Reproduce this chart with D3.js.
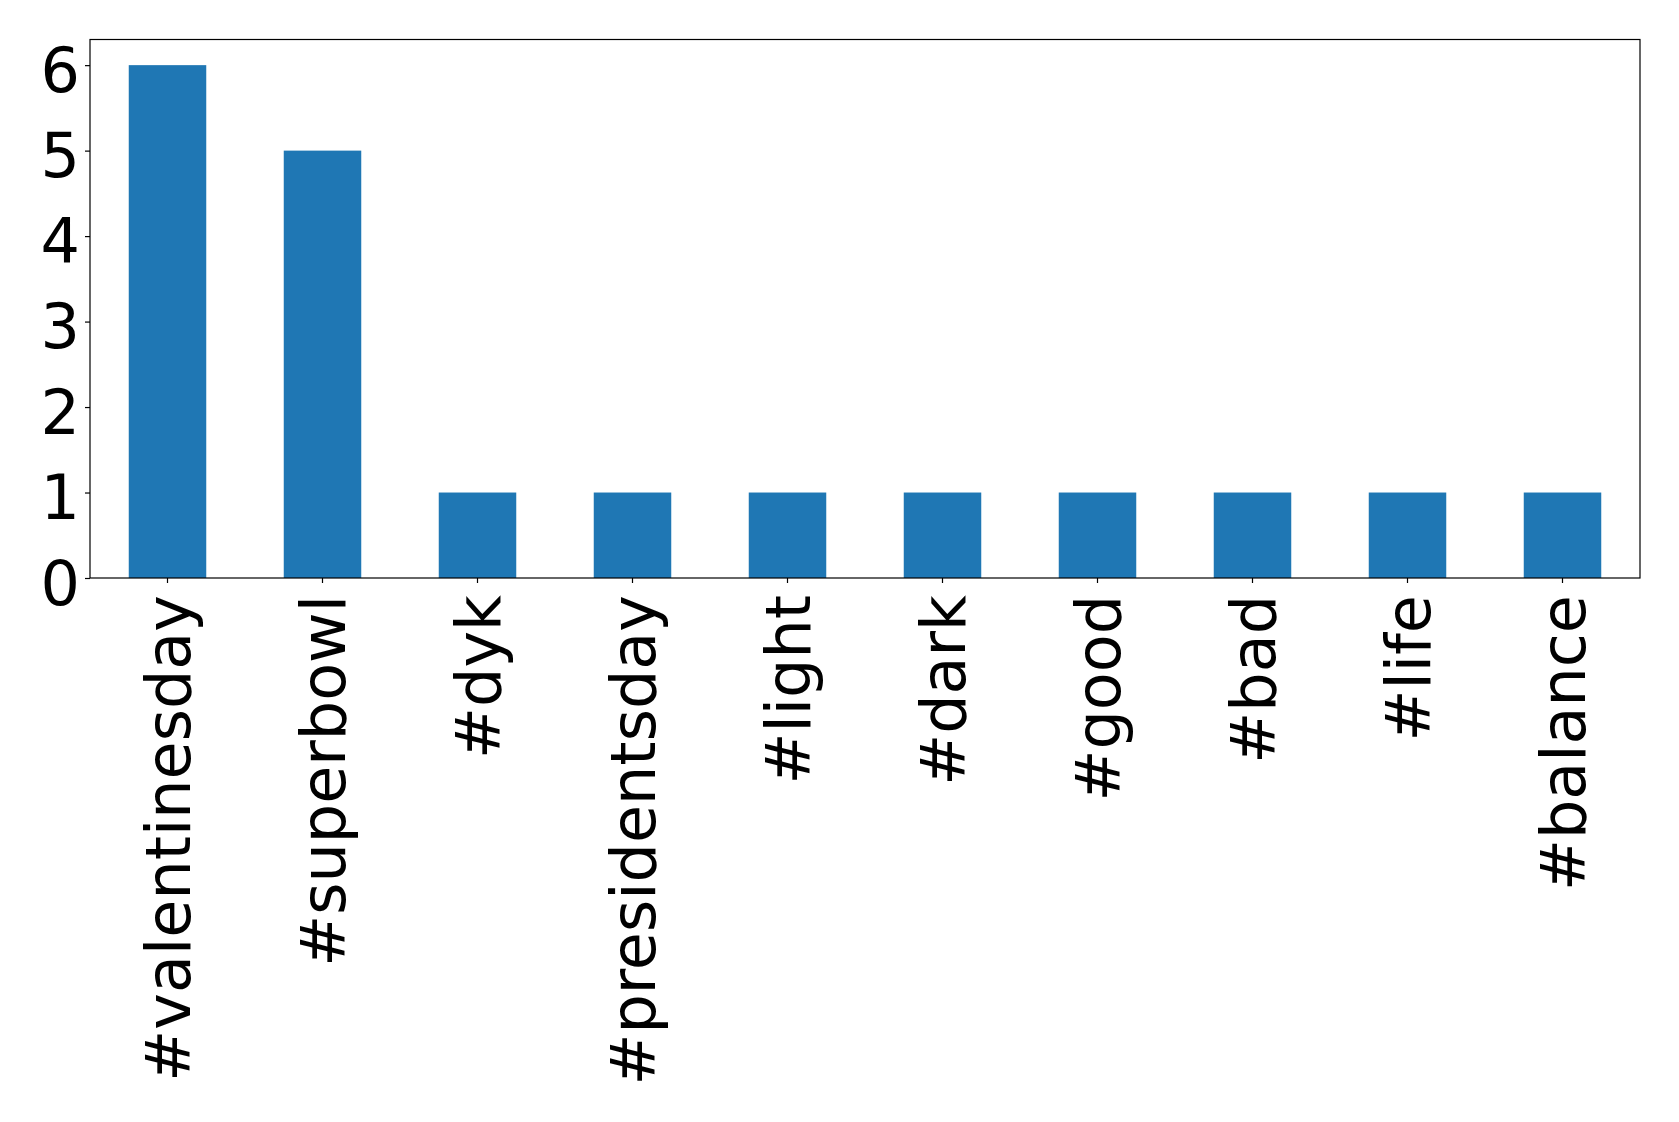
<!DOCTYPE html>
<html>
<head>
<meta charset="utf-8">
<script src="https://cdn.jsdelivr.net/npm/d3@7"></script>
<style>
  html, body { margin: 0; padding: 0; background: #fff; }
  svg { display: block; }
</style>
</head>
<body>
<svg id="chart" width="1679" height="1122"></svg>
<script>
const categories = ["#valentinesday", "#superbowl", "#dyk", "#presidentsday", "#light", "#dark", "#good", "#bad", "#life", "#balance"];
const values = [6, 5, 1, 1, 1, 1, 1, 1, 1, 1];
const yTicks = [0, 1, 2, 3, 4, 5, 6];

const W = 1679, H = 1122;
const margin = { left: 90, top: 39.5, right: 1679 - 1640, bottom: 1122 - 578 };
const svg = d3.select("#chart");
const iw = W - margin.left - margin.right;
const ih = H - margin.top - margin.bottom;

const x = d3.scaleBand().domain(categories).range([margin.left, margin.left + iw])
  .paddingInner(0.5).paddingOuter(0.25);
const y = d3.scaleLinear().domain([0, 6.3]).range([margin.top + ih, margin.top]);

const font = "'DejaVu Sans', sans-serif";

svg.append("g").selectAll("rect").data(categories).join("rect")
  .attr("x", d => x(d))
  .attr("width", x.bandwidth())
  .attr("y", (d, i) => y(values[i]))
  .attr("height", (d, i) => y(0) - y(values[i]))
  .attr("fill", "#1f77b4");

// frame
svg.append("rect")
  .attr("x", margin.left).attr("y", margin.top)
  .attr("width", iw).attr("height", ih)
  .attr("fill", "none").attr("stroke", "#000").attr("stroke-width", 1.2);

const yAxis = svg.append("g")
  .attr("transform", `translate(${margin.left},0)`)
  .call(d3.axisLeft(y).tickValues(yTicks).tickFormat(d3.format("d")).tickSize(5).tickPadding(5));
yAxis.select(".domain").remove();
yAxis.selectAll("line").attr("stroke", "#000").attr("stroke-width", 1.2);
yAxis.selectAll("text").attr("font-family", font).attr("font-size", 62).attr("fill", "#000")
  .attr("dy", "0.42em");

const xAxis = svg.append("g")
  .attr("transform", `translate(0,${margin.top + ih})`)
  .call(d3.axisBottom(x).tickSize(5).tickPadding(0));
xAxis.select(".domain").remove();
xAxis.selectAll("line").attr("stroke", "#000").attr("stroke-width", 1.2);
xAxis.selectAll("text")
  .attr("font-family", font).attr("font-size", 62).attr("fill", "#000")
  .attr("text-anchor", "end")
  .attr("transform", "translate(0,17) rotate(-90)")
  .attr("x", 0).attr("y", 0)
  .attr("dy", "0.36em");
</script>
</body>
</html>
